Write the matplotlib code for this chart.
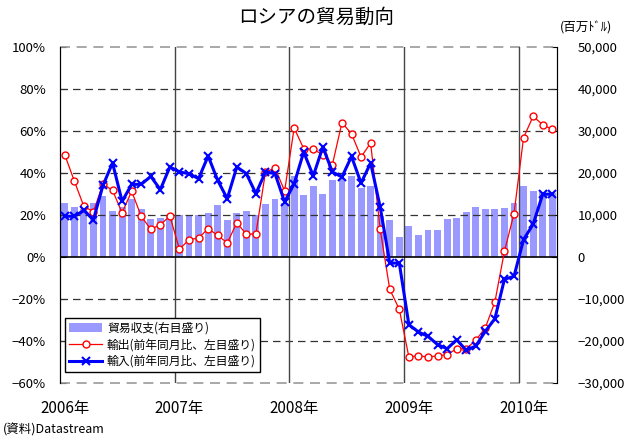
"""
Russia trade trend: monthly trade balance (bars, right axis) with export and
import growth rates year over year (lines, left axis), Jan 2006 to Apr 2010.
"""

import matplotlib.pyplot as plt
import numpy as np

plt.rcParams['font.family'] = ['Noto Sans CJK JP', 'DejaVu Sans']

# Data
# ----------------------------------------------------------------------------

years = ['2006年', '2007年', '2008年', '2009年', '2010年']

# trade balance [million USD]
balance = [12900, 12000, 11400, 12900, 14600, 10900, 12000, 13800, 11400, 9000, 9300, 9800,
           10100, 9700, 9900, 10500, 12400, 8800, 10500, 11000, 9900, 12700, 13900, 12800,
           19200, 14700, 16900, 15100, 18400, 18500, 19200, 16500, 16800, 9800, 8900, 4800,
           7400, 5300, 6500, 6500, 9100, 9300, 10600, 12000, 11500, 11500, 11700, 12900,
           16800, 15800, 15500, 15200]

# exports, year over year [%]
exports = [48.7, 36.2, 24.1, 21.6, 34.8, 31.7, 21.1, 31.3, 19.4, 13.2, 15.4, 19.5,
           3.7, 8.3, 9.0, 13.5, 10.3, 6.7, 16.3, 10.8, 11.1, 40.5, 42.4, 31.4,
           61.4, 51.6, 51.3, 48.7, 44.0, 64.0, 58.7, 47.6, 54.3, 13.2, -15.4, -24.9,
           -47.6, -47.1, -47.6, -47.1, -46.5, -43.7, -43.7, -39.7, -33.7, -21.4, 2.7, 20.6,
           56.8, 67.0, 63.0, 60.8]

# imports, year over year [%]
imports = [19.4, 19.4, 22.2, 17.8, 34.1, 44.8, 26.5, 34.6, 34.6, 38.4, 32.1, 42.9,
           40.5, 39.7, 37.3, 48.1, 36.5, 27.8, 42.9, 39.7, 30.2, 40.5, 39.7, 26.2,
           34.9, 50.0, 38.6, 52.4, 40.5, 38.1, 47.9, 35.2, 44.8, 23.8, -2.9, -2.9,
           -32.2, -35.7, -37.8, -41.7, -43.7, -39.4, -44.4, -42.4, -35.4, -29.4, -10.6, -9.2,
           8.3, 15.6, 29.8, 30.0]

x = np.arange(len(balance))

# Plot
# ----------------------------------------------------------------------------

plt.close('all')

fig = plt.figure(figsize=(6.26, 4.37), dpi=100)
ax2 = fig.add_axes([0.0958, 0.1236, 0.7940, 0.7688])
ax = ax2.twinx()
ax.set_zorder(ax2.get_zorder() + 1)
ax.patch.set_visible(False)

# bars on the right axis
bars = ax2.bar(x, balance, width=0.72, color='#9999ff', zorder=1, label='貿易収支(右目盛り)')
ax2.set_ylim(-30000, 50000)
ax2.set_yticks(np.arange(-30000, 50001, 10000))
ax2.set_yticklabels([f'{v:,}'.replace('-', '−') for v in range(-30000, 50001, 10000)], fontsize=9.5)
ax2.yaxis.tick_right()
ax2.tick_params(axis='y', direction='in', length=4, pad=15, right=True, left=False)
ax2.set_xlim(-0.5, len(balance) - 0.5)

# lines on the left axis
l1, = ax.plot(x, exports, '-o', color='red', lw=0.9, ms=5, mfc='white', mec='red', mew=1,
              label='輸出(前年同月比、左目盛り)', zorder=4)
l2, = ax.plot(x, imports, '-x', color='#0000ff', lw=2.2, ms=6, mew=1.5,
              label='輸入(前年同月比、左目盛り)', zorder=5)
ax.set_ylim(-60, 100)
ax.set_yticks(np.arange(-60, 101, 20))
ax.set_yticklabels([f'{v}%'.replace('-', '−') for v in range(-60, 101, 20)], fontsize=9.5)
ax.yaxis.tick_left()
ax.tick_params(axis='y', direction='in', length=4, pad=10, left=True, right=False)

for v in range(-40, 81, 20):
    if v != 0:
        ax.axhline(v, color='#333333', lw=0.9, ls=(0, (6, 4)), zorder=2)
ax.axhline(0, color='black', lw=1.2, zorder=3)
for v in (-60, 100):
    ax.axhline(v, color='#999999', lw=1.2, ls=(0, (6, 4)), zorder=2, clip_on=False)

for b in (11.5, 23.5, 35.5, 47.5):
    ax.axvline(b, color='#444444', lw=1, zorder=2)

for a in (ax, ax2):
    a.spines['top'].set_visible(False)
    a.spines['bottom'].set_visible(False)
    a.spines['left'].set_color('black')
    a.spines['right'].set_color('black')

ax2.set_xticks(x[::12])
ax2.set_xticklabels(years, fontsize=11)
ax2.tick_params(axis='x', length=0, pad=12)

ax.legend(handles=[bars, l1, l2], loc='lower left', bbox_to_anchor=(0.01, 0.033),
          fontsize=8.5, fancybox=False, framealpha=1, edgecolor='black',
          handlelength=2.8, borderpad=0.35, labelspacing=0.3, handletextpad=0.4,
          borderaxespad=0)

fig.text(0.505, 0.96, 'ロシアの貿易動向', ha='center', va='center', fontsize=14)
fig.text(0.895, 0.936, '(百万ﾄﾞﾙ)', ha='left', va='center', fontsize=9)
fig.text(0.005, 0.016, '(資料)Datastream', ha='left', va='center', fontsize=9)

fig.savefig('out.png', dpi=100)
